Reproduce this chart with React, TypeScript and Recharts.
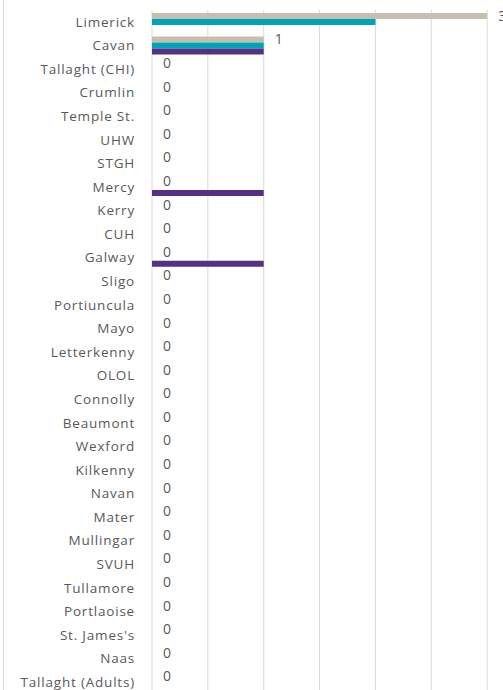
import React from 'react'
import { BarChart, Bar, XAxis, YAxis, CartesianGrid, LabelList } from 'recharts'

const hospitals = [
  'Limerick', 'Cavan', 'Tallaght (CHI)', 'Crumlin', 'Temple St.', 'UHW', 'STGH', 'Mercy',
  'Kerry', 'CUH', 'Galway', 'Sligo', 'Portiuncula', 'Mayo', 'Letterkenny', 'OLOL',
  'Connolly', 'Beaumont', 'Wexford', 'Kilkenny', 'Navan', 'Mater', 'Mullingar', 'SVUH',
  'Tullamore', 'Portlaoise', "St. James's", 'Naas', 'Tallaght (Adults)',
]

const beigeValues = [3, 1, 0, 0, 0, 0, 0, 0, 0, 0, 0, 0, 0, 0, 0, 0, 0, 0, 0, 0, 0, 0, 0, 0, 0, 0, 0, 0, 0]
const tealValues = [2, 1, 0, 0, 0, 0, 0, 0, 0, 0, 0, 0, 0, 0, 0, 0, 0, 0, 0, 0, 0, 0, 0, 0, 0, 0, 0, 0, 0]
const purpleValues = [0, 1, 0, 0, 0, 0, 0, 1, 0, 0, 1, 0, 0, 0, 0, 0, 0, 0, 0, 0, 0, 0, 0, 0, 0, 0, 0, 0, 0]

const xTicks = [0, 0.5, 1, 1.5, 2, 2.5, 3, 3.5]

const data = hospitals.map((name, i) => ({
  name,
  a: beigeValues[i],
  b: tealValues[i],
  c: purpleValues[i],
}))

const font = "'Open Sans', sans-serif"
const textColor = '#595959'

// draw the value next to the bar end, zeros included
const ValueLabel = (props: any) => {
  const { x, y, width, height, value } = props
  return (
    <text
      x={Number(x) + Number(width) + 11}
      y={Number(y) + Number(height) / 2}
      dy="0.35em"
      fill={textColor}
      fontSize={14}
      fontFamily={font}
    >
      {String(value)}
    </text>
  )
}

export default function App() {
  return (
    <div style={{ position: 'absolute', left: 0, top: 0, width: 503, height: 690, overflow: 'hidden', background: '#fff' }}>
      <div style={{ position: 'absolute', left: 3, top: 0, width: 1, height: 690, background: '#d9d9d9' }} />
      <BarChart
        width={560}
        height={694}
        data={data}
        layout="vertical"
        margin={{ top: 10, right: 17, left: 0, bottom: 0 }}
        barCategoryGap={3}
        barGap={0}
      >
        <CartesianGrid horizontal={false} stroke="#d9d9d9" />
        <XAxis type="number" domain={[0, 3.5]} ticks={xTicks} hide />
        <YAxis
          type="category"
          dataKey="name"
          width={152}
          axisLine={false}
          tickLine={false}
          tickMargin={11}
          interval={0}
          tick={{ fill: textColor, fontSize: 13.5, fontFamily: font, letterSpacing: 0.8 }}
        />
        <Bar dataKey="a" fill="#c8beb0" minPointSize={0.01} isAnimationActive={false}>
          <LabelList dataKey="a" content={ValueLabel} />
        </Bar>
        <Bar dataKey="b" fill="#00a5b5" isAnimationActive={false} />
        <Bar dataKey="c" fill="#553085" isAnimationActive={false} />
      </BarChart>
    </div>
  )
}
